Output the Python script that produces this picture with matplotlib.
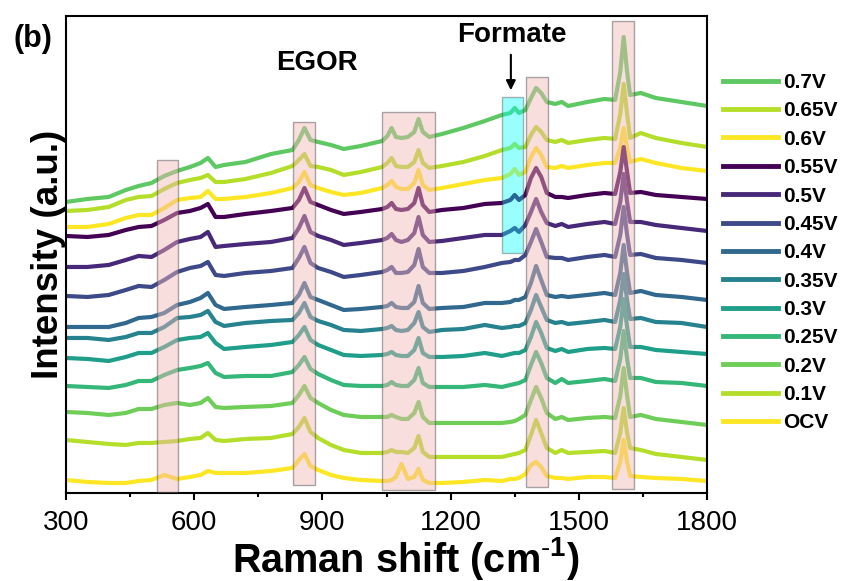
import matplotlib
matplotlib.use("Agg")
import matplotlib.pyplot as plt
from matplotlib.patches import Rectangle

plt.rcParams['font.family'] = ['Liberation Sans', 'DejaVu Sans']
plt.rcParams['mathtext.fontset'] = 'custom'
plt.rcParams['mathtext.rm'] = 'Liberation Sans'
plt.rcParams['mathtext.bf'] = 'Liberation Sans:bold'

# Raman shift grid (cm-1), shared by every spectrum
shift = [300, 350, 400, 440, 470, 500, 530, 560, 590, 615,
         632, 650, 670, 720, 780, 830, 845, 858, 872, 890,
         920, 950, 990, 1040, 1052, 1062, 1072, 1085, 1100, 1115,
         1125, 1135, 1150, 1180, 1230, 1280, 1320, 1340, 1350, 1360,
         1375, 1388, 1400, 1412, 1425, 1445, 1460, 1475, 1520, 1560,
         1585, 1597, 1605, 1613, 1620, 1645, 1680, 1740, 1800]

# stacked intensities (a.u.)
v070 = [291, 294, 296, 303, 307, 310, 317, 322, 326, 330,
        335, 326, 328, 331, 339, 343, 353, 365, 353, 351,
        348, 344, 347, 352, 357, 365, 356, 355, 356, 361,
        374, 361, 356, 359, 365, 372, 378, 380, 385, 380,
        383, 395, 405, 400, 391, 389, 391, 387, 391, 394,
        393, 421, 456, 421, 398, 400, 395, 391, 387]
v065 = [282, 283, 286, 293, 296, 297, 304, 310, 313, 315,
        318, 311, 311, 314, 320, 327, 333, 339, 327, 326,
        323, 318, 321, 326, 330, 335, 327, 326, 326, 331,
        343, 330, 325, 327, 331, 337, 343, 345, 349, 345,
        346, 358, 366, 361, 353, 351, 353, 350, 353, 355,
        354, 379, 409, 379, 355, 360, 355, 350, 346]
v060 = [266, 266, 269, 275, 278, 278, 285, 293, 295, 296,
        302, 294, 294, 296, 300, 305, 311, 321, 308, 305,
        301, 298, 300, 305, 308, 312, 306, 304, 304, 310,
        323, 308, 303, 305, 309, 313, 315, 319, 324, 318,
        321, 336, 345, 338, 326, 325, 327, 325, 328, 330,
        330, 345, 365, 345, 331, 334, 330, 325, 322]
v055 = [257, 256, 258, 263, 266, 267, 273, 280, 282, 285,
        289, 276, 276, 279, 282, 285, 293, 305, 291, 288,
        283, 279, 281, 284, 286, 290, 284, 283, 284, 290,
        305, 288, 281, 283, 285, 289, 290, 293, 298, 293,
        298, 315, 325, 316, 300, 296, 296, 295, 298, 300,
        299, 321, 346, 321, 300, 301, 298, 296, 294]
v050 = [226, 226, 228, 233, 237, 236, 243, 251, 254, 256,
        261, 246, 247, 249, 251, 255, 265, 277, 261, 257,
        253, 248, 250, 253, 255, 259, 253, 251, 253, 260,
        276, 258, 251, 252, 255, 258, 258, 262, 265, 261,
        268, 281, 294, 281, 270, 267, 269, 266, 269, 271,
        269, 291, 319, 291, 271, 271, 268, 265, 262]
v045 = [197, 196, 198, 203, 207, 206, 213, 221, 225, 227,
        231, 218, 217, 220, 222, 225, 235, 246, 230, 225,
        221, 216, 218, 221, 223, 226, 220, 220, 221, 228,
        244, 226, 220, 220, 222, 226, 230, 231, 233, 233,
        238, 251, 264, 251, 236, 235, 235, 233, 236, 238,
        236, 258, 286, 258, 238, 239, 235, 233, 230]
v040 = [166, 166, 166, 170, 175, 176, 180, 188, 191, 195,
        200, 188, 184, 186, 188, 190, 198, 210, 196, 193,
        188, 183, 184, 186, 187, 190, 186, 185, 185, 191,
        207, 190, 184, 185, 186, 190, 190, 191, 193, 193,
        196, 210, 227, 213, 198, 196, 197, 196, 198, 200,
        198, 220, 248, 220, 200, 202, 198, 196, 193]
v035 = [155, 155, 153, 156, 160, 160, 166, 175, 176, 178,
        182, 171, 167, 170, 172, 173, 180, 190, 176, 172,
        168, 163, 162, 164, 165, 167, 163, 162, 163, 170,
        181, 166, 161, 163, 164, 168, 165, 166, 167, 167,
        170, 183, 198, 186, 173, 170, 171, 169, 171, 173,
        171, 193, 219, 193, 174, 175, 171, 170, 166]
v030 = [135, 134, 132, 136, 140, 140, 146, 153, 155, 156,
        160, 150, 144, 146, 148, 151, 158, 166, 153, 148,
        143, 138, 137, 138, 139, 141, 138, 137, 137, 143,
        155, 140, 136, 136, 137, 140, 137, 139, 140, 140,
        143, 156, 171, 160, 145, 142, 144, 141, 144, 145,
        144, 166, 194, 166, 146, 146, 143, 141, 139]
v025 = [107, 106, 105, 108, 112, 112, 118, 123, 125, 127,
        130, 120, 116, 117, 117, 121, 128, 136, 124, 119,
        113, 108, 107, 107, 108, 111, 108, 107, 107, 113,
        125, 110, 106, 106, 106, 108, 106, 108, 109, 110,
        113, 128, 141, 130, 115, 110, 114, 110, 112, 114,
        112, 134, 162, 134, 115, 115, 111, 110, 107]
v020 = [81, 80, 78, 80, 84, 84, 88, 90, 88, 90,
        95, 86, 85, 86, 87, 90, 98, 107, 95, 90,
        83, 78, 76, 76, 76, 78, 76, 74, 74, 80,
        91, 76, 70, 70, 70, 70, 70, 71, 72, 74,
        78, 93, 106, 95, 80, 74, 76, 73, 75, 76,
        75, 97, 125, 97, 76, 78, 74, 71, 68]
v010 = [53, 51, 49, 48, 50, 50, 51, 52, 54, 55,
        60, 53, 52, 54, 55, 59, 66, 75, 61, 55,
        48, 43, 40, 40, 41, 43, 41, 41, 40, 45,
        57, 41, 36, 36, 36, 36, 36, 38, 39, 40,
        43, 58, 73, 60, 45, 40, 43, 40, 41, 42,
        40, 60, 85, 60, 45, 43, 39, 36, 33]
ocv = [13, 11, 10, 10, 12, 13, 18, 14, 16, 18,
       22, 20, 20, 20, 22, 25, 33, 39, 27, 23,
       18, 15, 13, 12, 12, 13, 16, 29, 14, 16,
       24, 13, 10, 10, 11, 13, 12, 14, 14, 15,
       19, 28, 31, 26, 17, 15, 15, 14, 16, 16,
       15, 31, 53, 31, 17, 16, 15, 14, 12]

labels = ['0.7V', '0.65V', '0.6V', '0.55V', '0.5V', '0.45V', '0.4V',
          '0.35V', '0.3V', '0.25V', '0.2V', '0.1V', 'OCV']
spectra = [v070, v065, v060, v055, v050, v045, v040,
           v035, v030, v025, v020, v010, ocv]
colors = ['#5ec962', '#b5de2b', '#fde725', '#440154', '#482878', '#3e4989',
          '#31688e', '#26828e', '#1f9e89', '#35b779', '#6ece58', '#b5de2b',
          '#fde725']

# highlighted bands: (x0, x1, y0, y1)
bands = [(512, 563, 1, 333), (832, 883, 8, 371), (1040, 1164, 3, 381),
         (1376, 1428, 6, 416), (1578, 1628, 4, 472)]
formate_band = (1320, 1369, 240, 396)

fig = plt.figure(figsize=(8.44, 5.81), dpi=100)
ax = fig.add_axes([0.0782, 0.1515, 0.7595, 0.821])

handles = []
for lab, y, c in zip(labels, spectra, colors):
    ln, = ax.plot(shift, y, color=c, lw=3, label=lab, solid_joinstyle='round')
    handles.append(ln)

for x0, x1, y0, y1 in bands:
    ax.add_patch(Rectangle((x0, y0), x1 - x0, y1 - y0, facecolor='#f2b6b6',
                           edgecolor='#444444', lw=1, alpha=0.45, zorder=5))
x0, x1, y0, y1 = formate_band
ax.add_patch(Rectangle((x0, y0), x1 - x0, y1 - y0, facecolor='#00ffff',
                       edgecolor='#444444', lw=1, alpha=0.4, zorder=5))

ax.annotate('', xy=(1341, 400), xytext=(1341, 441),
            arrowprops=dict(arrowstyle='-|>', color='black', lw=1.5,
                            mutation_scale=14))
ax.text(1343, 458, 'Formate', ha='center', va='center', fontsize=20,
        fontweight='bold')
ax.text(888, 430, 'EGOR', ha='center', va='center', fontsize=20,
        fontweight='bold')
fig.text(0.039, 0.933, '(b)', ha='center', va='center', fontsize=22,
         fontweight='bold')

ax.set_xlim(300, 1800)
ax.set_ylim(0, 477)
ax.set_xticks([300, 600, 900, 1200, 1500, 1800])
ax.set_xticks([450, 750, 1050, 1350, 1650], minor=True)
ax.set_yticks([])
ax.tick_params(axis='x', which='major', direction='out', length=5, width=1.5,
               labelsize=20, pad=7)
ax.tick_params(axis='x', which='minor', direction='out', length=3, width=1.5)
for sp in ax.spines.values():
    sp.set_linewidth(1.5)

ax.set_xlabel(r'Raman shift (cm$^{\text{-}\mathbf{1}}$)', fontsize=28.5,
              fontweight='bold')
ax.xaxis.set_label_coords(0.530, -0.088)
ax.set_ylabel('Intensity (a.u.)', fontsize=26.5, fontweight='bold', labelpad=0)

fig.legend(handles=handles, loc='upper left',
           bbox_to_anchor=(723 / 844, 1 - 73 / 581), frameon=False,
           prop={'weight': 'bold', 'size': 15},
           handlelength=2.65, handletextpad=0.25, labelspacing=0.45,
           borderpad=0, borderaxespad=0)
for ln in fig.legends[0].get_lines():
    ln.set_linewidth(3.5)

fig.savefig('out.png', dpi=100)
